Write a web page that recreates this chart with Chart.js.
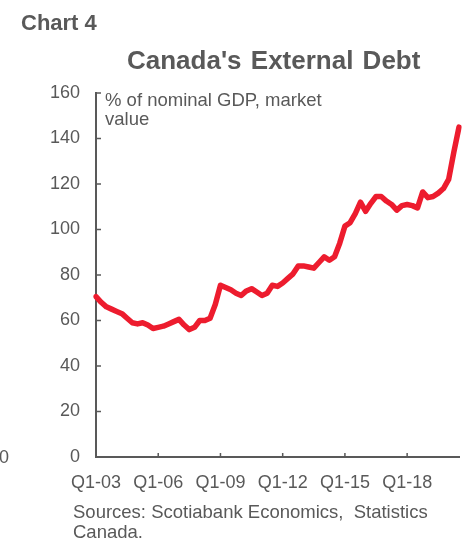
<!DOCTYPE html>
<html>
<head>
<meta charset="utf-8">
<title>Canada's External Debt</title>
<script src="https://cdn.jsdelivr.net/npm/chart.js@4.4.1/dist/chart.umd.min.js"></script>
<style>
  html, body {
    margin: 0;
    padding: 0;
    background: #fff;
  }
  body {
    width: 474px;
    height: 539px;
    position: relative;
    overflow: hidden;
    font-family: "Liberation Sans", Arial, sans-serif;
    color: #595959;
  }
  #wrap {
    position: absolute;
    left: 0;
    top: 0;
    width: 474px;
    height: 539px;
  }
  .txt {
    position: absolute;
    white-space: nowrap;
  }
  #chart-no {
    left: 21px;
    top: 12px;
    font-family: "Liberation Sans Narrow", "Arial Narrow", sans-serif;
    font-weight: bold;
    font-size: 22px;
    line-height: 1;
  }
  #title {
    left: 127px;
    top: 47px;
    font-weight: bold;
    font-size: 26px;
    line-height: 1;
    word-spacing: 2px;
  }
  #unit {
    left: 105px;
    top: 90px;
    font-size: 18.5px;
    line-height: 19px;
  }
  #source {
    left: 73px;
    top: 502px;
    font-size: 18.5px;
    line-height: 20px;
  }
  #edge-zero {
    left: -1px;
    top: 447px;
    font-size: 18px;
    line-height: 20px;
  }
</style>
</head>
<body>
<div id="wrap"><canvas id="debtChart"></canvas></div>
<div class="txt" id="chart-no">Chart 4</div>
<div class="txt" id="title">Canada's External Debt</div>
<div class="txt" id="unit">% of nominal GDP, market<br>value</div>
<div class="txt" id="source">Sources: Scotiabank Economics,&nbsp; Statistics<br>Canada.</div>
<div class="txt" id="edge-zero">0</div>

<script>
// quarterly, Q1-03 .. Q3-20
const firstYear = 2003;
const quarterCount = 71;
const quarters = [];
for (let i = 0; i < quarterCount; i++) {
  const yr = firstYear + Math.floor(i / 4);
  quarters.push(`Q${(i % 4) + 1}-${String(yr % 100).padStart(2, "0")}`);
}

// % of nominal GDP
const externalDebt = [
  70.5, 68, 66, 65, 64, 63, 61, 59, 58.5, 59,
  58, 56.5, 57, 57.5, 58.5, 59.5, 60.5, 58, 56, 57,
  60, 60, 61, 67, 75.5, 74.5, 73.5, 72, 71, 73,
  74, 72.5, 71, 72, 75.5, 75, 76.5, 78.5, 80.5, 84,
  84, 83.5, 83, 85.5, 88, 86.5, 88, 94, 101.5, 103,
  107, 112, 108, 111.5, 114.5, 114.5, 112.5, 111, 108.5, 110.5,
  111, 110.5, 109.5, 116.5, 114, 114.5, 116, 118, 122, 134,
  145
];

const yTicks = [0, 20, 40, 60, 80, 100, 120, 140, 160];
const labelEvery = 12; // Q1 every third year

const axisColor = "#595959";
const lineColor = "#ED1C2E";

Chart.defaults.font.family = '"Liberation Sans", Arial, sans-serif';
Chart.defaults.color = axisColor;

// inward tick marks like the Excel original
const innerTicks = {
  id: "innerTicks",
  afterDraw(chart) {
    const ctx = chart.ctx;
    const x = chart.scales.x;
    const y = chart.scales.y;
    const area = chart.chartArea;
    ctx.save();
    ctx.strokeStyle = axisColor;
    ctx.lineWidth = 1.5;
    ctx.beginPath();
    yTicks.forEach(v => {
      const py = y.getPixelForValue(v);
      ctx.moveTo(area.left, py);
      ctx.lineTo(area.left + 5, py);
    });
    for (let i = labelEvery; i < quarters.length; i += labelEvery) {
      const px = x.getPixelForValue(i);
      ctx.moveTo(px, area.bottom);
      ctx.lineTo(px, area.bottom - 4);
    }
    ctx.stroke();
    ctx.restore();
  }
};

const ctx = document.getElementById("debtChart").getContext("2d");
const debtChart = new Chart(ctx, {
  type: "line",
  data: {
    labels: quarters,
    datasets: [
      {
        label: "External debt",
        data: externalDebt,
        borderColor: lineColor,
        borderWidth: 5.5,
        borderJoinStyle: "round",
        borderCapStyle: "round",
        pointRadius: 0,
        tension: 0,
        fill: false
      }
    ]
  },
  options: {
    responsive: true,
    maintainAspectRatio: false,
    animation: false,
    events: [],
    layout: {
      padding: { top: 93, right: 10, bottom: 42, left: 0 }
    },
    plugins: {
      legend: { display: false },
      tooltip: { enabled: false },
      title: { display: false }
    },
    scales: {
      x: {
        type: "category",
        offset: false,
        grid: { display: false, drawTicks: false },
        border: { display: true, color: axisColor, width: 2 },
        ticks: {
          autoSkip: false,
          maxRotation: 0,
          minRotation: 0,
          padding: 15,
          font: { size: 18 },
          callback: (val, i) => (i % labelEvery === 0 ? quarters[i] : "")
        },
        afterFit: scale => { scale.height = 40; }
      },
      y: {
        min: 0,
        max: 160,
        grid: { display: false, drawTicks: false },
        border: { display: true, color: axisColor, width: 2 },
        ticks: {
          stepSize: 20,
          padding: 16,
          font: { size: 18 }
        },
        afterFit: scale => { scale.width = 96; }
      }
    }
  },
  plugins: [innerTicks]
});
</script>
</body>
</html>
